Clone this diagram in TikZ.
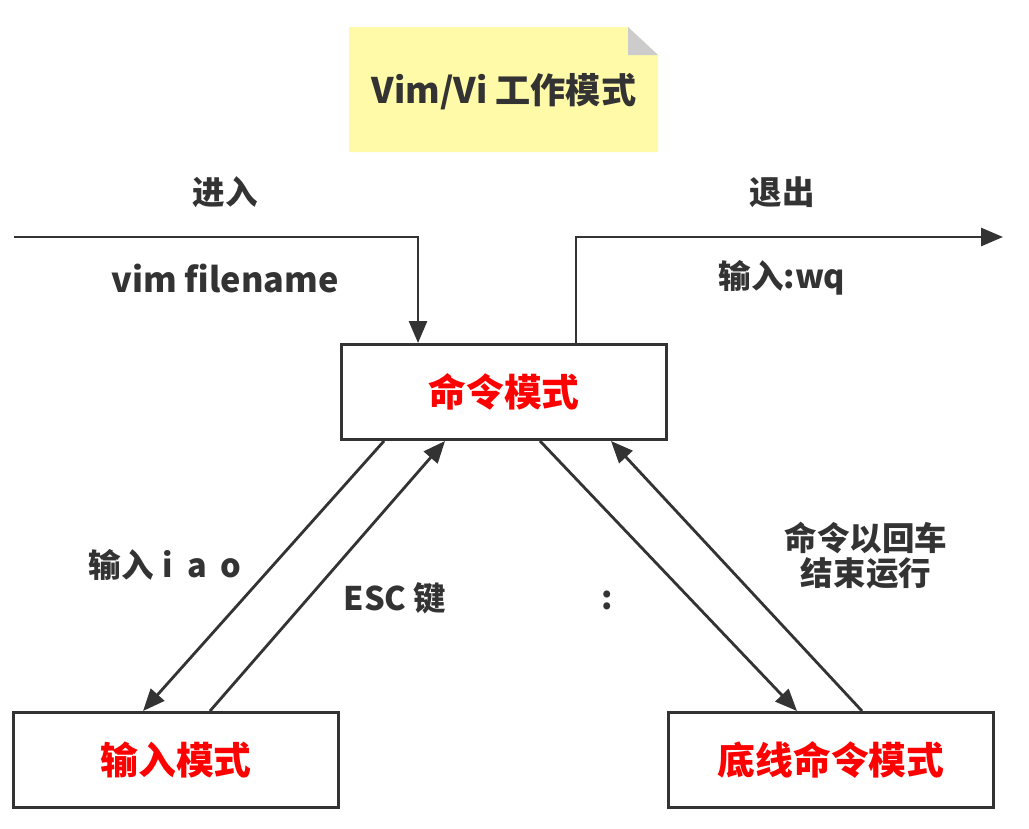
\documentclass[tikz,border=0pt]{standalone}
\usepackage{fontspec}
\setmainfont{Noto Sans CJK SC}
\usetikzlibrary{arrows.meta,calc}
\definecolor{ink}{HTML}{333333}
\definecolor{notey}{HTML}{FFFAA8}
\definecolor{fold}{HTML}{CCCCCC}
\definecolor{modered}{HTML}{FF0000}
\begin{document}
\begin{tikzpicture}[x=0.02cm,y=-0.02cm,
  modebox/.style={draw=ink,line width=1.7pt,minimum width=6.5cm,minimum height=1.9cm,inner sep=0pt,
    font=\bfseries\fontsize{21.5}{24}\selectfont,text=modered},
  lbl/.style={text=ink,font=\bfseries\fontsize{18.5}{22}\selectfont,inner sep=0pt,align=center},
  conn/.style={draw=ink,line width=1.6pt},
  arr/.style={conn,-{Triangle[length=0.44cm,width=0.36cm]}}]
\useasboundingbox (0,0) rectangle (1029,829);
% note
\fill[notey] (349,27) -- (628,27) -- (658,55) -- (658,152) -- (349,152) -- cycle;
\fill[fold] (628,27) -- (628,55) -- (658,55) -- cycle;
\node[text=ink,font=\bfseries\fontsize{20}{24}\selectfont,inner sep=0pt] (title) at (504,92) {Vim/Vi 工作模式};
% boxes
\node[modebox] (cmd) at (504,392) {命令模式};
\node[modebox] (ins) at (176,760) {输入模式};
\node[modebox] (last) at (831,760) {底线命令模式};
% enter / exit
\coordinate (enterstart) at (14,237);
\coordinate (exitend) at (1003,237);
\draw[arr] (enterstart) -| ([xshift=1.56cm]cmd.north west);
\draw[arr] ([xshift=4.72cm]cmd.north west) |- (exitend);
\node[lbl] (lenter) at (225,192) {进入};
\node[lbl] (lexit) at (782,192) {退出};
\node[lbl,font=\bfseries\fontsize{19.5}{22}\selectfont] (lvim) at (225,278) {vim filename};
\node[lbl] (lwq) at (782,278) {输入:wq};
% mode transitions
\draw[arr] ([xshift=0.88cm]cmd.south west) -- ([xshift=2.62cm]ins.north west);
\draw[arr] ([xshift=3.96cm]ins.north west) -- ([xshift=2.1cm]cmd.south west);
\draw[arr] ([xshift=4.0cm]cmd.south west) -- ([xshift=2.6cm]last.north west);
\draw[arr] ([xshift=3.9cm]last.north west) -- ([xshift=5.42cm]cmd.south west);
\node[lbl] (liao) at (165,565) {输入\hspace{0.28em}i\hspace{0.42em}a\hspace{0.42em}o};
\node[lbl] (lesc) at (395,598) {ESC 键};
\node[lbl] (lcolon) at (607,600) {:};
\node[lbl] (lret) at (866,556) {命令以回车\\[-2pt]结束运行};
\end{tikzpicture}
\end{document}
